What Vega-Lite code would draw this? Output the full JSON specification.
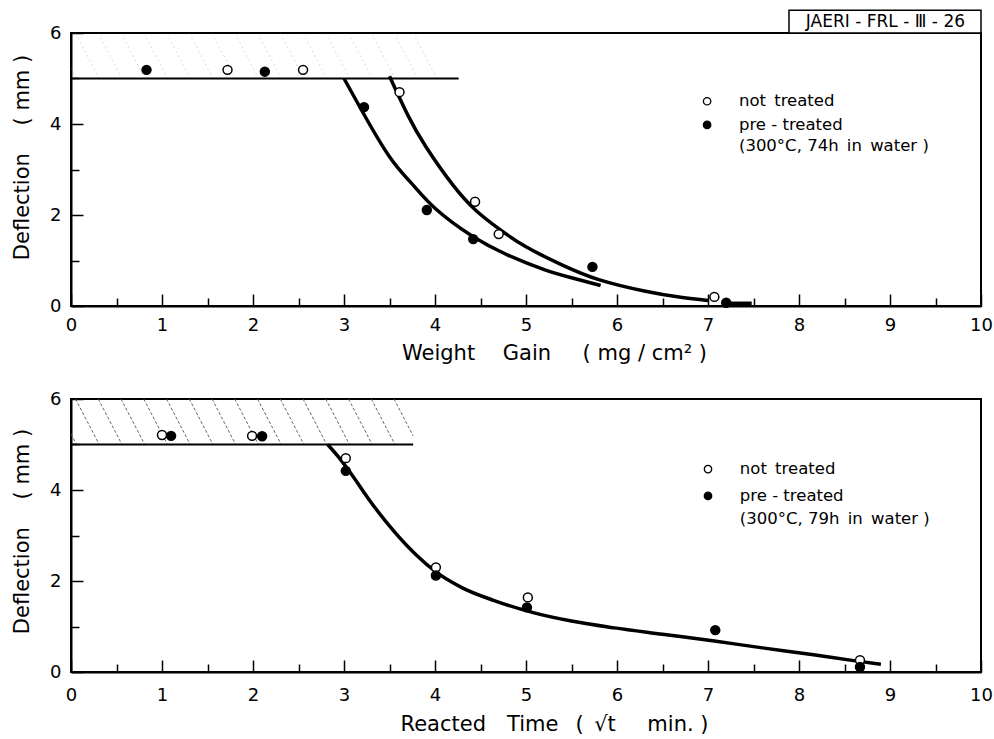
{
  "$schema": "https://vega.github.io/schema/vega-lite/v6.json",
  "background": "white",
  "padding": {"left": 9, "top": 8, "right": 2, "bottom": 4},
  "spacing": 25,
  "config": {
    "font": "DejaVu Sans",
    "view": {"stroke": "black", "strokeWidth": 2},
    "axis": {
      "grid": false,
      "domainColor": "black",
      "domainWidth": 2,
      "tickColor": "black",
      "tickWidth": 1.5,
      "labelColor": "black",
      "titleColor": "black",
      "labelFont": "DejaVu Sans",
      "titleFont": "DejaVu Sans",
      "labelFontSize": 18,
      "titleFontSize": 21,
      "titleFontWeight": "normal",
      "labelOverlap": false,
      "labelFlush": false,
      "labelBound": false
    }
  },
  "datasets": {
    "hatch_top": [
      {"x": 0, "y": 5.23, "x2": 0.06, "y2": 5},
      {"x": 0.05, "y": 6, "x2": 0.31, "y2": 5},
      {"x": 0.3, "y": 6, "x2": 0.56, "y2": 5},
      {"x": 0.55, "y": 6, "x2": 0.81, "y2": 5},
      {"x": 0.8, "y": 6, "x2": 1.06, "y2": 5},
      {"x": 1.05, "y": 6, "x2": 1.31, "y2": 5},
      {"x": 1.3, "y": 6, "x2": 1.56, "y2": 5},
      {"x": 1.55, "y": 6, "x2": 1.81, "y2": 5},
      {"x": 1.8, "y": 6, "x2": 2.06, "y2": 5},
      {"x": 2.05, "y": 6, "x2": 2.31, "y2": 5},
      {"x": 2.3, "y": 6, "x2": 2.56, "y2": 5},
      {"x": 2.55, "y": 6, "x2": 2.81, "y2": 5},
      {"x": 2.8, "y": 6, "x2": 3.06, "y2": 5},
      {"x": 3.05, "y": 6, "x2": 3.31, "y2": 5},
      {"x": 3.3, "y": 6, "x2": 3.56, "y2": 5},
      {"x": 3.55, "y": 6, "x2": 3.81, "y2": 5},
      {"x": 3.76, "y": 6, "x2": 4.02, "y2": 5}
    ],
    "hatch_bottom": [
      {"x": 0, "y": 5.23, "x2": 0.06, "y2": 5},
      {"x": 0.05, "y": 6, "x2": 0.31, "y2": 5},
      {"x": 0.3, "y": 6, "x2": 0.56, "y2": 5},
      {"x": 0.55, "y": 6, "x2": 0.81, "y2": 5},
      {"x": 0.8, "y": 6, "x2": 1.06, "y2": 5},
      {"x": 1.05, "y": 6, "x2": 1.31, "y2": 5},
      {"x": 1.3, "y": 6, "x2": 1.56, "y2": 5},
      {"x": 1.55, "y": 6, "x2": 1.81, "y2": 5},
      {"x": 1.8, "y": 6, "x2": 2.06, "y2": 5},
      {"x": 2.05, "y": 6, "x2": 2.31, "y2": 5},
      {"x": 2.3, "y": 6, "x2": 2.56, "y2": 5},
      {"x": 2.55, "y": 6, "x2": 2.81, "y2": 5},
      {"x": 2.8, "y": 6, "x2": 3.06, "y2": 5},
      {"x": 3.05, "y": 6, "x2": 3.31, "y2": 5},
      {"x": 3.3, "y": 6, "x2": 3.56, "y2": 5},
      {"x": 3.55, "y": 6, "x2": 3.76, "y2": 5.19}
    ],
    "shelf_top": [{"x": 0, "y": 5, "x2": 4.26, "y2": 5}],
    "shelf_bottom": [{"x": 0, "y": 5, "x2": 3.76, "y2": 5}],
    "curves_top": [
      {"curve": "pre", "x": 3.0, "y": 5.0},
      {"curve": "pre", "x": 3.2, "y": 4.28},
      {"curve": "pre", "x": 3.5, "y": 3.28},
      {"curve": "pre", "x": 3.75, "y": 2.68},
      {"curve": "pre", "x": 4.0, "y": 2.15},
      {"curve": "pre", "x": 4.4, "y": 1.55},
      {"curve": "pre", "x": 4.8, "y": 1.12},
      {"curve": "pre", "x": 5.2, "y": 0.8},
      {"curve": "pre", "x": 5.5, "y": 0.62},
      {"curve": "pre", "x": 5.82, "y": 0.45},
      {"curve": "not", "x": 3.5, "y": 5.05},
      {"curve": "not", "x": 3.7, "y": 4.2},
      {"curve": "not", "x": 3.9, "y": 3.5},
      {"curve": "not", "x": 4.2, "y": 2.65},
      {"curve": "not", "x": 4.45, "y": 2.1},
      {"curve": "not", "x": 4.7, "y": 1.7},
      {"curve": "not", "x": 5.0, "y": 1.3},
      {"curve": "not", "x": 5.4, "y": 0.9},
      {"curve": "not", "x": 5.8, "y": 0.58},
      {"curve": "not", "x": 6.3, "y": 0.33},
      {"curve": "not", "x": 6.7, "y": 0.19},
      {"curve": "not", "x": 7.0, "y": 0.12},
      {"curve": "tail", "x": 7.25, "y": 0.06},
      {"curve": "tail", "x": 7.48, "y": 0.06}
    ],
    "curve_bottom": [
      {"curve": "all", "x": 2.82, "y": 5.0},
      {"curve": "all", "x": 2.95, "y": 4.7},
      {"curve": "all", "x": 3.08, "y": 4.35},
      {"curve": "all", "x": 3.3, "y": 3.72},
      {"curve": "all", "x": 3.55, "y": 3.09},
      {"curve": "all", "x": 3.8, "y": 2.56},
      {"curve": "all", "x": 4.01, "y": 2.2},
      {"curve": "all", "x": 4.3, "y": 1.85},
      {"curve": "all", "x": 4.65, "y": 1.57},
      {"curve": "all", "x": 5.09, "y": 1.3},
      {"curve": "all", "x": 5.5, "y": 1.12},
      {"curve": "all", "x": 5.97, "y": 0.97},
      {"curve": "all", "x": 6.5, "y": 0.83},
      {"curve": "all", "x": 7.07, "y": 0.68},
      {"curve": "all", "x": 7.6, "y": 0.53},
      {"curve": "all", "x": 8.16, "y": 0.38},
      {"curve": "all", "x": 8.6, "y": 0.25},
      {"curve": "all", "x": 8.9, "y": 0.17}
    ],
    "points_top": [
      {"treatment": "pre-treated", "x": 0.83, "y": 5.19},
      {"treatment": "pre-treated", "x": 2.13, "y": 5.15},
      {"treatment": "pre-treated", "x": 3.22, "y": 4.37},
      {"treatment": "pre-treated", "x": 3.91, "y": 2.11},
      {"treatment": "pre-treated", "x": 4.42, "y": 1.47},
      {"treatment": "pre-treated", "x": 5.73, "y": 0.86},
      {"treatment": "pre-treated", "x": 7.2, "y": 0.07},
      {"treatment": "not treated", "x": 1.72, "y": 5.19},
      {"treatment": "not treated", "x": 2.55, "y": 5.19},
      {"treatment": "not treated", "x": 3.61, "y": 4.7},
      {"treatment": "not treated", "x": 4.44, "y": 2.29},
      {"treatment": "not treated", "x": 4.7, "y": 1.58},
      {"treatment": "not treated", "x": 7.07, "y": 0.2}
    ],
    "points_bottom": [
      {"treatment": "not treated", "x": 1.0, "y": 5.21},
      {"treatment": "not treated", "x": 1.99, "y": 5.19},
      {"treatment": "not treated", "x": 3.02, "y": 4.7},
      {"treatment": "not treated", "x": 4.01, "y": 2.3},
      {"treatment": "not treated", "x": 5.02, "y": 1.64},
      {"treatment": "not treated", "x": 8.67, "y": 0.26},
      {"treatment": "pre-treated", "x": 1.1, "y": 5.19},
      {"treatment": "pre-treated", "x": 2.1, "y": 5.18},
      {"treatment": "pre-treated", "x": 3.02, "y": 4.42},
      {"treatment": "pre-treated", "x": 4.01, "y": 2.12},
      {"treatment": "pre-treated", "x": 5.01, "y": 1.42},
      {"treatment": "pre-treated", "x": 7.08, "y": 0.92},
      {"treatment": "pre-treated", "x": 8.67, "y": 0.11}
    ],
    "legend_sym_top": [
      {"treatment": "not treated", "x": 6.99, "y": 4.5},
      {"treatment": "pre-treated", "x": 6.99, "y": 3.98}
    ],
    "legend_txt_top": [
      {"label": "not\u2002treated", "x": 7.34, "y": 4.5},
      {"label": "pre - treated", "x": 7.34, "y": 3.98},
      {"label": "(300°C, 74h\u2002in\u2002water )", "x": 7.34, "y": 3.52}
    ],
    "legend_sym_bottom": [
      {"treatment": "not treated", "x": 7.0, "y": 4.46},
      {"treatment": "pre-treated", "x": 7.0, "y": 3.87}
    ],
    "legend_txt_bottom": [
      {"label": "not\u2002treated", "x": 7.35, "y": 4.46},
      {"label": "pre - treated", "x": 7.35, "y": 3.87},
      {"label": "(300°C, 79h\u2002in\u2002water )", "x": 7.35, "y": 3.37}
    ],
    "report_box": [{"x": 7.89, "x2": 10, "y": 6, "y2": 6.5}],
    "report_label": [{"label": "JAERI - FRL - Ⅲ - 26", "x": 8.95, "y": 6.25}]
  },
  "vconcat": [
    {
      "width": 910,
      "height": 273,
      "encoding": {
        "x": {
          "field": "x", "type": "quantitative",
          "scale": {"domain": [0, 10], "nice": false, "zero": false},
          "axis": {
            "values": [0, 0.5, 1, 1.5, 2, 2.5, 3, 3.5, 4, 4.5, 5, 5.5, 6, 6.5, 7, 7.5, 8, 8.5, 9, 9.5, 10],
            "labelExpr": "datum.value % 1 == 0 ? format(datum.value, 'd') : ''",
            "tickSize": {"condition": {"test": "datum.value % 1 == 0", "value": -12}, "value": -8},
            "labelPadding": 22,
            "title": "Weight\u2002\u2002 Gain\u2002\u2002\u2002( mg / cm² )",
            "titleX": 483,
            "titleY": 36
          }
        },
        "y": {
          "field": "y", "type": "quantitative",
          "scale": {"domain": [0, 6], "nice": false, "zero": false},
          "axis": {
            "values": [0, 1, 2, 3, 4, 5, 6],
            "labelExpr": "datum.value % 2 == 0 ? format(datum.value, 'd') : ''",
            "tickSize": {"condition": {"test": "datum.value % 2 == 0", "value": -12}, "value": -8},
            "labelPadding": 22,
            "title": "Deflection\u2002\u2002 ( mm )",
            "titleX": -39,
            "titleY": 124
          }
        }
      },
      "layer": [
        {
          "data": {"name": "hatch_top"},
          "mark": {"type": "rule", "stroke": "#777", "strokeWidth": 0.8, "strokeDash": [2, 3], "opacity": 0.35},
          "encoding": {"x2": {"field": "x2"}, "y2": {"field": "y2"}}
        },
        {
          "data": {"name": "shelf_top"},
          "mark": {"type": "rule", "stroke": "black", "strokeWidth": 1.8},
          "encoding": {"x2": {"field": "x2"}, "y2": {"field": "y2"}}
        },
        {
          "data": {"name": "curves_top"},
          "mark": {"type": "line", "stroke": "black", "strokeWidth": 3.5, "interpolate": "natural"},
          "encoding": {"detail": {"field": "curve"}}
        },
        {
          "data": {"name": "points_top"},
          "mark": {"type": "point", "shape": "circle", "filled": true, "stroke": "black", "strokeWidth": 1.5, "size": 80, "opacity": 1},
          "encoding": {"fill": {"field": "treatment", "type": "nominal", "scale": {"domain": ["not treated", "pre-treated"], "range": ["white", "black"]}, "legend": null}}
        },
        {
          "data": {"name": "legend_sym_top"},
          "mark": {"type": "point", "shape": "circle", "filled": true, "stroke": "black", "strokeWidth": 1.3, "size": 55, "opacity": 1},
          "encoding": {"fill": {"field": "treatment", "type": "nominal", "scale": {"domain": ["not treated", "pre-treated"], "range": ["white", "black"]}, "legend": null}}
        },
        {
          "data": {"name": "legend_txt_top"},
          "mark": {"type": "text", "align": "left", "baseline": "middle", "fontSize": 16.5, "font": "DejaVu Sans", "color": "black"},
          "encoding": {"text": {"field": "label"}}
        },
        {
          "data": {"name": "report_box"},
          "mark": {"type": "rect", "fill": "white", "stroke": "black", "strokeWidth": 1.5},
          "encoding": {"x2": {"field": "x2"}, "y2": {"field": "y2"}}
        },
        {
          "data": {"name": "report_label"},
          "mark": {"type": "text", "align": "center", "baseline": "middle", "fontSize": 17, "font": "DejaVu Sans", "color": "black"},
          "encoding": {"text": {"field": "label"}}
        }
      ]
    },
    {
      "width": 910,
      "height": 273,
      "encoding": {
        "x": {
          "field": "x", "type": "quantitative",
          "scale": {"domain": [0, 10], "nice": false, "zero": false},
          "axis": {
            "values": [0, 0.5, 1, 1.5, 2, 2.5, 3, 3.5, 4, 4.5, 5, 5.5, 6, 6.5, 7, 7.5, 8, 8.5, 9, 9.5, 10],
            "labelExpr": "datum.value % 1 == 0 ? format(datum.value, 'd') : ''",
            "tickSize": {"condition": {"test": "datum.value % 1 == 0", "value": -12}, "value": -8},
            "labelPadding": 26,
            "title": "Reacted\u2002\u2002Time\u2002 (\u2002√t\u2002\u2002\u2002min. )",
            "titleX": 483,
            "titleY": 41
          }
        },
        "y": {
          "field": "y", "type": "quantitative",
          "scale": {"domain": [0, 6], "nice": false, "zero": false},
          "axis": {
            "values": [0, 1, 2, 3, 4, 5, 6],
            "labelExpr": "datum.value % 2 == 0 ? format(datum.value, 'd') : ''",
            "tickSize": {"condition": {"test": "datum.value % 2 == 0", "value": -12}, "value": -8},
            "labelPadding": 22,
            "title": "Deflection\u2002\u2002 ( mm )",
            "titleX": -39,
            "titleY": 132
          }
        }
      },
      "layer": [
        {
          "data": {"name": "hatch_bottom"},
          "mark": {"type": "rule", "stroke": "#555", "strokeWidth": 0.9, "strokeDash": [3, 2]},
          "encoding": {"x2": {"field": "x2"}, "y2": {"field": "y2"}}
        },
        {
          "data": {"name": "shelf_bottom"},
          "mark": {"type": "rule", "stroke": "black", "strokeWidth": 1.8},
          "encoding": {"x2": {"field": "x2"}, "y2": {"field": "y2"}}
        },
        {
          "data": {"name": "curve_bottom"},
          "mark": {"type": "line", "stroke": "black", "strokeWidth": 3.5, "interpolate": "monotone"},
          "encoding": {"detail": {"field": "curve"}}
        },
        {
          "data": {"name": "points_bottom"},
          "mark": {"type": "point", "shape": "circle", "filled": true, "stroke": "black", "strokeWidth": 1.5, "size": 80, "opacity": 1},
          "encoding": {"fill": {"field": "treatment", "type": "nominal", "scale": {"domain": ["not treated", "pre-treated"], "range": ["white", "black"]}, "legend": null}}
        },
        {
          "data": {"name": "legend_sym_bottom"},
          "mark": {"type": "point", "shape": "circle", "filled": true, "stroke": "black", "strokeWidth": 1.3, "size": 55, "opacity": 1},
          "encoding": {"fill": {"field": "treatment", "type": "nominal", "scale": {"domain": ["not treated", "pre-treated"], "range": ["white", "black"]}, "legend": null}}
        },
        {
          "data": {"name": "legend_txt_bottom"},
          "mark": {"type": "text", "align": "left", "baseline": "middle", "fontSize": 16.5, "font": "DejaVu Sans", "color": "black"},
          "encoding": {"text": {"field": "label"}}
        }
      ]
    }
  ]
}
